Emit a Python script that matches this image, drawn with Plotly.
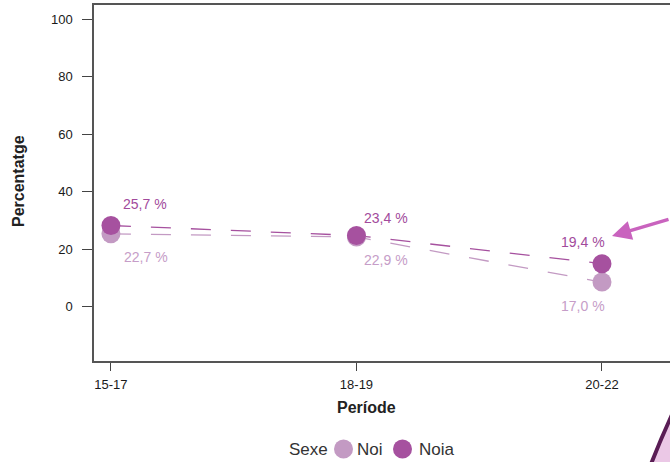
import plotly.graph_objects as go

periods = ["15-17", "18-19", "20-22"]
noi_values = [25.3, 24.2, 8.5]
noia_values = [28.2, 24.7, 14.9]
noi_labels = ["22,7 %", "22,9 %", "17,0 %"]
noia_labels = ["25,7 %", "23,4 %", "19,4 %"]
y_ticks = [0, 20, 40, 60, 80, 100]
series_names = ["Noi", "Noia"]
legend_title = "Sexe"

NOI_COLOR = "#C39AC3"
NOIA_COLOR = "#A6519F"
NOI_TEXT = "#C69DC8"
NOIA_TEXT = "#A24A9C"
FONT = "Liberation Sans, Arial, sans-serif"

# plot area in pixels
L, R, T, B = 94, 670, 5, 361
W, H = R - L, B - T


def px(x):
    return (x - L) / W


def py(y):
    return (B - y) / H


# label offsets (pixels)
noia_offsets = [(34, 21), (30, 18), (-19, 22)]
noi_offsets = [(35, -23), (30, -23), (-19, -24)]

fig = go.Figure()

for vals, col in [(noi_values, NOI_COLOR), (noia_values, NOIA_COLOR)]:
    fig.add_trace(go.Scatter(
        x=periods, y=vals, mode="lines",
        line=dict(color=col, width=1.3, dash="20px,20px"),
        showlegend=False, hoverinfo="skip"))

fig.add_trace(go.Scatter(
    x=periods, y=noi_values, mode="markers", name=series_names[0],
    marker=dict(color=NOI_COLOR, size=19), showlegend=False))
fig.add_trace(go.Scatter(
    x=periods, y=noia_values, mode="markers", name=series_names[1],
    marker=dict(color=NOIA_COLOR, size=19), showlegend=False))

for p, v, t, (dx, dy) in zip(periods, noia_values, noia_labels, noia_offsets):
    fig.add_annotation(x=p, y=v, text=t, showarrow=False, xshift=dx, yshift=dy,
                       xanchor="center", yanchor="middle",
                       font=dict(family=FONT, size=14, color=NOIA_TEXT))
for p, v, t, (dx, dy) in zip(periods, noi_values, noi_labels, noi_offsets):
    fig.add_annotation(x=p, y=v, text=t, showarrow=False, xshift=dx, yshift=dy,
                       xanchor="center", yanchor="middle",
                       font=dict(family=FONT, size=14, color=NOI_TEXT))

# axis titles
fig.add_annotation(xref="paper", yref="paper", x=px(18), y=py(181),
                   xanchor="center", yanchor="middle",
                   text="<b>Percentatge</b>", textangle=-90, showarrow=False,
                   font=dict(family=FONT, size=16, color="#222"))
fig.add_annotation(xref="paper", yref="paper", x=px(366), y=py(407),
                   xanchor="center", yanchor="middle",
                   text="<b>Període</b>", showarrow=False,
                   font=dict(family=FONT, size=16, color="#222"))

# custom legend
LEG_Y = 449
fig.add_annotation(xref="paper", yref="paper", x=px(287), y=py(LEG_Y),
                   xanchor="left", yanchor="middle", text=legend_title, showarrow=False,
                   font=dict(family=FONT, size=17, color="#333"))
for name, col, cx, tx in [(series_names[0], NOI_COLOR, 343.5, 355),
                          (series_names[1], NOIA_COLOR, 402.5, 417)]:
    fig.add_shape(type="circle", xref="paper", yref="paper",
                  xsizemode="pixel", ysizemode="pixel",
                  xanchor=px(cx), yanchor=py(LEG_Y),
                  x0=-9.5, x1=9.5, y0=-9.5, y1=9.5,
                  fillcolor=col, line=dict(width=0))
    fig.add_annotation(xref="paper", yref="paper", x=px(tx), y=py(LEG_Y),
                       xanchor="left", yanchor="middle", text=name, showarrow=False,
                       font=dict(family=FONT, size=17, color="#333"))

# decorative arrow
fig.add_annotation(xref="paper", yref="paper", x=px(612), y=py(236),
                   ax=62, ay=-17, text="", showarrow=True, arrowhead=2,
                   arrowsize=1.1, arrowwidth=3.5, arrowcolor="#C963BE")

# decorative corner shape
path = (f"M {px(648)},{py(472)} Q {px(660)},{py(440)} {px(676)},{py(406)} "
        f"L {px(690)},{py(406)} L {px(690)},{py(472)} Z")
fig.add_shape(type="path", xref="paper", yref="paper", path=path,
              fillcolor="#EBC8E6", line=dict(color="#5A1D55", width=4), layer="above")

fig.update_layout(
    width=670, height=462,
    margin=dict(l=L, r=670 - R, t=T, b=462 - B, autoexpand=False),
    paper_bgcolor="white", plot_bgcolor="white",
    font=dict(family=FONT, color="#222"),
    showlegend=False,
)
fig.update_xaxes(
    type="category", range=[-0.069, 2.277], automargin=False,
    showline=True, linecolor="#555", linewidth=1.5, mirror=True,
    showgrid=False, zeroline=False,
    ticks="outside", ticklen=8, tickcolor="#444", tickwidth=1,
    ticklabelstandoff=3,
    tickfont=dict(size=13, color="#1a1a1a"))
fig.update_yaxes(
    range=[-19, 105], tickvals=y_ticks, automargin=False,
    showline=True, linecolor="#555", linewidth=1.5,
    showgrid=False, zeroline=False,
    ticks="outside", ticklen=10, tickcolor="#444", tickwidth=1,
    ticklabelstandoff=7,
    tickfont=dict(size=13, color="#1a1a1a"))

fig.write_html("out.html", config={"displayModeBar": False},
               post_script="document.body.style.margin='0';document.body.style.overflow='hidden';")
